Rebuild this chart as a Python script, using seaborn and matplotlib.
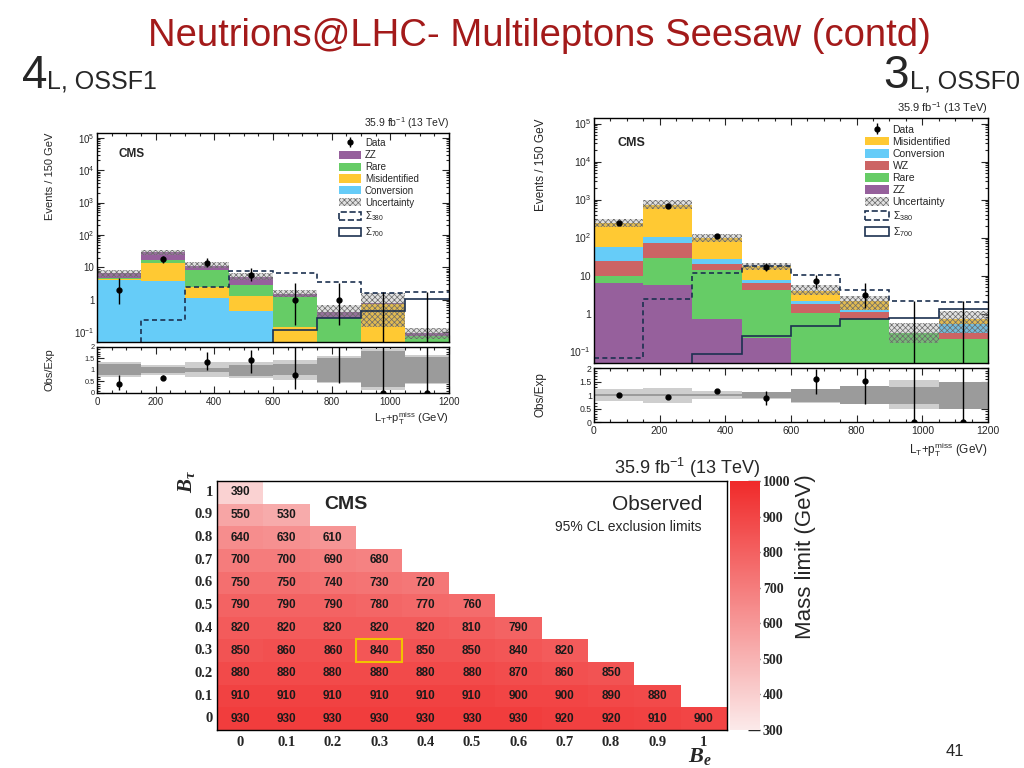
import numpy as np
import pandas as pd
import matplotlib
matplotlib.use("Agg")
import matplotlib.pyplot as plt
import matplotlib.ticker as mticker
from matplotlib.colors import LinearSegmentedColormap
from matplotlib.patches import Patch, Rectangle
import seaborn as sns

sns.set_style("ticks")
plt.rcParams['font.family'] = ['Liberation Sans', 'DejaVu Sans']
plt.rcParams['mathtext.fontset'] = 'custom'
plt.rcParams['mathtext.rm'] = 'Liberation Sans'
plt.rcParams['mathtext.it'] = 'Liberation Sans:italic'
plt.rcParams['mathtext.bf'] = 'Liberation Sans:bold'
plt.rcParams['mathtext.bfit'] = 'Liberation Serif:italic:bold'
plt.rcParams['hatch.linewidth'] = 0.5

# binning shared by both L_T + pTmiss distributions
bin_edges = np.array([0, 150, 300, 450, 600, 750, 900, 1050, 1200])

# ---- 4L, OSSF1 (left) ----
l_conv = [4.1, 3.7, 1.12, 0.44, 0, 0, 0, 0]
l_misid = [0.4, 9.7, 1.45, 0.83, 0.15, 0, 0.75, 0]
l_rare = [0.1, 3.6, 5.8, 1.6, 1.1, 0.28, 0, 0.074]
l_zz = [2.0, 13.7, 3.0, 2.3, 0.25, 0.14, 0.04, 0.02]
l_unc_lo = [5.2, 24.4, 9.4, 4.1, 1.2, 0.3, 0.14, 0.06]
l_unc_hi = [8.4, 34.4, 15.1, 6.9, 2.0, 0.7, 1.65, 0.134]
l_data = [2, 18, 14, 6, 1, 1, 0, 0]
l_data_lo = [0.75, 14, 10.5, 3.9, 0.17, 0.17, 0, 0]
l_data_hi = [4.6, 23, 19, 9.5, 3.3, 3.3, 1.8, 1.8]
l_sig380 = [0.01, 0.24, 2.57, 7.8, 6.9, 3.66, 1.6, 1.72]
l_sig700 = [0.01, 0.01, 0.01, 0.01, 0.12, 0.27, 0.44, 1.05]
l_ratio = [0.38, 0.67, 1.36, 1.43, 0.78, 2.4, 0, 0]
l_ratio_lo = [0.13, 0.57, 1.0, 0.86, 0.16, 0.45, 0, 0]
l_ratio_hi = [0.78, 0.78, 1.8, 1.87, 2.0, 5.0, 4.3, 4.3]
l_dark_lo = [0.78, 0.88, 0.91, 0.74, 0.78, 0.49, 0.28, 0.45]
l_dark_hi = [1.26, 1.12, 1.09, 1.22, 1.26, 1.5, 1.83, 1.55]
l_light_lo = [0.7, 0.78, 0.71, 0.66, 0.57, 0.42, 0.15, 0.38]
l_light_hi = [1.35, 1.22, 1.33, 1.33, 1.43, 1.6, 1.9, 1.65]

# ---- 3L, OSSF0 (right) ----
r_zz = [6.4, 5.75, 0.7, 0.23, 0, 0, 0, 0]
r_rare = [3.1, 23, 13.5, 4.0, 1.04, 0.7, 0.3, 0.22]
r_wz = [14, 45, 6.2, 2.15, 0.79, 0.38, 0, 0.08]
r_conv = [34.5, 32, 6.6, 1.1, 0.27, 0.19, 0, 0.22]
r_misid = [177, 630, 69, 9.9, 1.75, 0.83, 0, 0.2]
r_unc_lo = [185, 560, 75, 14.2, 3.1, 1.27, 0.17, 0.31]
r_unc_hi = [305, 980, 122, 22, 5.8, 2.85, 0.57, 1.15]
r_data = [235, 690, 110, 17, 7, 3, 0, 0]
r_data_lo = [220, 665, 100, 13, 4.6, 1.4, 0, 0]
r_data_hi = [250, 715, 121, 21.5, 10.6, 6.4, 2.1, 2.1]
r_sig380 = [0.069, 2.47, 11.6, 18.1, 10.5, 4.25, 2.1, 1.98]
r_sig700 = [0.01, 0.01, 0.084, 0.255, 0.485, 0.74, 0.77, 1.32]
r_ratio = [0.99, 0.94, 1.15, 0.89, 1.6, 1.53, 0, 0]
r_ratio_lo = [0.96, 0.91, 1.1, 0.64, 1.02, 0.68, 0, 0]
r_ratio_hi = [1.02, 0.97, 1.2, 1.14, 1.97, 1.97, 3.0, 3.0]
r_dark_lo = [0.95, 0.95, 0.95, 0.88, 0.74, 0.68, 0.68, 0.49]
r_dark_hi = [1.05, 1.05, 1.05, 1.12, 1.21, 1.33, 1.3, 1.48]
r_light_lo = [0.77, 0.72, 0.84, 0.87, 0.72, 0.66, 0.47, 0.47]
r_light_hi = [1.23, 1.26, 1.15, 1.13, 1.23, 1.35, 1.54, 1.5]

# ---- mass limit scan (B_e, B_tau) ----
be_labels = ['0', '0.1', '0.2', '0.3', '0.4', '0.5', '0.6', '0.7', '0.8', '0.9', '1']
btau_labels = ['1', '0.9', '0.8', '0.7', '0.6', '0.5', '0.4', '0.3', '0.2', '0.1', '0']
limit_rows = [
    [390],
    [550, 530],
    [640, 630, 610],
    [700, 700, 690, 680],
    [750, 750, 740, 730, 720],
    [790, 790, 790, 780, 770, 760],
    [820, 820, 820, 820, 820, 810, 790],
    [850, 860, 860, 840, 850, 850, 840, 820],
    [880, 880, 880, 880, 880, 880, 870, 860, 850],
    [910, 910, 910, 910, 910, 910, 900, 900, 890, 880],
    [930, 930, 930, 930, 930, 930, 930, 920, 920, 910, 900],
]
highlight = ('0.3', '0.3')  # (B_e, B_tau)

# colours
c_zz = '#96609c'
c_rare = '#66cc66'
c_misid = '#ffc933'
c_conv = '#66ccf8'
c_wz = '#cc6464'
c_sig = '#1c3150'


def logLabel(v, pos):
    e = int(round(np.log10(v)))
    if e == 0:
        return '1'
    if e == 1:
        return '10'
    return r'10$^{%d}$' % e


"""
    drawDistribution - stacked background + data + signal, with ratio panel
"""
def drawDistribution(ax, rax, stack, legend_order, unc_lo, unc_hi, data, data_lo, data_hi,
                     sig380, sig700, ratio, ratio_lo, ratio_hi, dark_lo, dark_hi,
                     light_lo, light_hi, fs, leg_xy, ratio_fs):
    widths = np.diff(bin_edges)
    lefts = bin_edges[:-1]
    centers = lefts + widths / 2

    # stacked backgrounds
    bottom = np.zeros(len(lefts))
    patches = {}
    for label, vals, color in stack:
        vals = np.asarray(vals, float)
        ax.bar(lefts, vals, width=widths, bottom=bottom, align='edge', color=color, linewidth=0)
        patches[label] = Patch(facecolor=color, edgecolor='none')
        bottom = bottom + vals

    # uncertainty band
    ulo, uhi = np.asarray(unc_lo, float), np.asarray(unc_hi, float)
    ax.bar(lefts, uhi - ulo, width=widths, bottom=ulo, align='edge',
           facecolor=(0.6, 0.6, 0.6, 0.3), edgecolor='#6a6a6a', hatch='xxxxxx', linewidth=0)
    unc_patch = Patch(facecolor=(0.6, 0.6, 0.6, 0.3), edgecolor='#6a6a6a', hatch='xxxxxx', linewidth=0)

    # signals
    ax.stairs(sig380, bin_edges, baseline=None, color=c_sig, linestyle=(0, (3, 2)), linewidth=1.2)
    ax.stairs(sig700, bin_edges, baseline=None, color=c_sig, linewidth=1.2)

    # data
    d = np.asarray(data, float)
    err = ax.errorbar(centers, d, yerr=[d - np.asarray(data_lo), np.asarray(data_hi) - d],
                      fmt='o', ms=3.5, color='black', elinewidth=1, capsize=0, zorder=5)

    ax.set_yscale('log')
    ax.set_xlim(0, 1200)
    ax.set_ylim(0.05, 1.4e5)
    ax.yaxis.set_major_locator(mticker.LogLocator(base=10, numticks=12))
    ax.yaxis.set_minor_locator(mticker.LogLocator(base=10, subs=np.arange(2, 10), numticks=12))
    ax.yaxis.set_major_formatter(mticker.FuncFormatter(logLabel))
    ax.yaxis.set_minor_formatter(mticker.NullFormatter())
    ax.set_ylabel('Events / 150 GeV', fontsize=fs + 1, loc='top')
    ax.yaxis.set_label_coords(-0.12, 1.0)
    ax.tick_params(labelbottom=False)

    handles = [err] + [patches[k] for k in legend_order] + [
        unc_patch,
        Patch(facecolor='none', edgecolor=c_sig, linestyle='--', linewidth=1.2),
        Patch(facecolor='none', edgecolor=c_sig, linewidth=1.2)]
    labels = ['Data'] + legend_order + ['Uncertainty', r'$\Sigma_{380}$', r'$\Sigma_{700}$']
    ax.legend(handles, labels, loc='upper left', bbox_to_anchor=leg_xy, frameon=False,
              fontsize=fs, handlelength=2.3, handleheight=0.9, labelspacing=0.2,
              handletextpad=0.35, borderpad=0, borderaxespad=0)

    ax.text(0.06, 0.9, 'CMS', transform=ax.transAxes, fontsize=fs + 1.5,
            fontweight='bold', va='center')
    ax.text(1.0, 1.01, r'35.9 fb$^{-1}$ (13 TeV)', transform=ax.transAxes,
            fontsize=fs + 0.5, ha='right', va='bottom')

    # ratio panel
    llo, lhi = np.asarray(light_lo, float), np.asarray(light_hi, float)
    dlo, dhi = np.asarray(dark_lo, float), np.asarray(dark_hi, float)
    rax.bar(lefts, lhi - llo, width=widths, bottom=llo, align='edge', color='#cecece', linewidth=0)
    rax.bar(lefts, dhi - dlo, width=widths, bottom=dlo, align='edge', color='#9b9b9b', linewidth=0)
    r = np.asarray(ratio, float)
    rax.errorbar(centers, r, yerr=[r - np.asarray(ratio_lo), np.asarray(ratio_hi) - r],
                 fmt='o', ms=3.5, color='black', elinewidth=1, capsize=0, zorder=5)
    rax.set_xlim(0, 1200)
    rax.set_ylim(0, 2)
    rax.set_yticks([0, 0.5, 1, 1.5, 2])
    rax.set_yticklabels(['0', '0.5', '1', '1.5', '2'])
    rax.yaxis.set_minor_locator(mticker.MultipleLocator(0.1))
    rax.set_ylabel('Obs/Exp', fontsize=fs + 1)
    rax.yaxis.set_label_coords(-0.12, 0.5)
    rax.set_xlabel(r'L$_\mathrm{T}$+p$_\mathrm{T}^\mathrm{miss}$ (GeV)', fontsize=fs + 1, ha='right')

    for a in (ax, rax):
        a.xaxis.set_major_locator(mticker.MultipleLocator(200))
        a.xaxis.set_minor_locator(mticker.MultipleLocator(50))
        a.tick_params(which='both', direction='in', top=True, right=True, width=0.8,
                      labelsize=fs, pad=2)
        a.tick_params(which='major', length=5)
        a.tick_params(which='minor', length=2.5)
        for sp in a.spines.values():
            sp.set_visible(True)
            sp.set_color('black')
            sp.set_linewidth(1)
    rax.tick_params(axis='y', labelsize=ratio_fs, pad=1.5)
    rax.tick_params(axis='x', pad=3)
    # x title just under the tick labels, right-aligned (ROOT style)
    gap = (fs * 1.75) / 72 * 100 / (rax.get_position().height * 768)
    rax.xaxis.set_label_coords(1.0, -gap)


fig = plt.figure(figsize=(10.24, 7.68), dpi=100)

# left: 4L OSSF1
ax_l = fig.add_axes([0.0947, 0.5547, 0.3438, 0.2721])
rax_l = fig.add_axes([0.0947, 0.4883, 0.3438, 0.0599])
drawDistribution(ax_l, rax_l,
                 [('Conversion', l_conv, c_conv), ('Misidentified', l_misid, c_misid),
                  ('Rare', l_rare, c_rare), ('ZZ', l_zz, c_zz)],
                 ['ZZ', 'Rare', 'Misidentified', 'Conversion'],
                 l_unc_lo, l_unc_hi, l_data, l_data_lo, l_data_hi, l_sig380, l_sig700,
                 l_ratio, l_ratio_lo, l_ratio_hi, l_dark_lo, l_dark_hi, l_light_lo, l_light_hi,
                 7, (0.6875, 0.976), 5.3)

# right: 3L OSSF0
ax_r = fig.add_axes([0.580, 0.5273, 0.3848, 0.319])
rax_r = fig.add_axes([0.580, 0.4505, 0.3848, 0.0703])
drawDistribution(ax_r, rax_r,
                 [('ZZ', r_zz, c_zz), ('Rare', r_rare, c_rare), ('WZ', r_wz, c_wz),
                  ('Conversion', r_conv, c_conv), ('Misidentified', r_misid, c_misid)],
                 ['Misidentified', 'Conversion', 'WZ', 'Rare', 'ZZ'],
                 r_unc_lo, r_unc_hi, r_data, r_data_lo, r_data_hi, r_sig380, r_sig700,
                 r_ratio, r_ratio_lo, r_ratio_hi, r_dark_lo, r_dark_hi, r_light_lo, r_light_hi,
                 7.5, (0.688, 0.973), 6.3)

# bottom: mass limit heatmap
grid = np.full((len(btau_labels), len(be_labels)), np.nan)
for i, row in enumerate(limit_rows):
    grid[i, :len(row)] = row
df = pd.DataFrame(grid, index=btau_labels, columns=be_labels)

hax = fig.add_axes([0.2119, 0.0495, 0.498, 0.3242])
cax = fig.add_axes([0.7129, 0.0495, 0.0293, 0.3242])
cmap = LinearSegmentedColormap.from_list('cmsred', ['#fbeaea', '#f02a2a'])
sns.heatmap(df, ax=hax, cbar_ax=cax, cmap=cmap, vmin=300, vmax=1000, mask=df.isna(),
            annot=True, fmt='.0f', linewidths=0,
            annot_kws=dict(fontsize=8.5, fontweight='bold', color='#1a1a1a'))

hax.add_patch(Rectangle((be_labels.index(highlight[0]), btau_labels.index(highlight[1])), 1, 1,
                        fill=False, edgecolor='#f2c200', linewidth=1.5))
for sp in hax.spines.values():
    sp.set_visible(True)
    sp.set_color('black')
    sp.set_linewidth(1)
hax.tick_params(axis='y', direction='in', length=5, width=1, pad=3)
hax.tick_params(axis='x', length=0, pad=4)
for t in hax.get_xticklabels() + hax.get_yticklabels():
    t.set_fontfamily('Liberation Serif')
    t.set_fontweight('bold')
    t.set_fontsize(10.5)
    t.set_rotation(0)

hax.text(0.21, 0.888, 'CMS', transform=hax.transAxes, fontsize=14, fontweight='bold', va='baseline')
hax.text(0.951, 0.884, 'Observed', transform=hax.transAxes, fontsize=15, ha='right', va='baseline')
hax.text(0.951, 0.80, '95% CL exclusion limits', transform=hax.transAxes, fontsize=10,
         ha='right', va='baseline')

cax.set_yticks(range(300, 1001, 100))
cax.tick_params(direction='in', length=9, width=1, pad=2)
for t in cax.get_yticklabels():
    t.set_fontfamily('Liberation Serif')
    t.set_fontweight('bold')
    t.set_fontsize(10)

fig.text(760 / 1024, 1 - 474 / 768, r'35.9 fb$^{-1}$ (13 TeV)', ha='right', va='baseline', fontsize=13)
fig.text(805 / 1024, 1 - 474 / 768, 'Mass limit (GeV)', rotation=90, ha='center', va='top', fontsize=16)
fig.text(187 / 1024, 1 - 470 / 768, r'$\mathbfit{B}_{\mathbfit{\tau}}$', rotation=90,
         ha='center', va='top', fontsize=15)
fig.text(700 / 1024, 1 - 762 / 768, r'$\mathbfit{B}_{\mathbfit{e}}$', ha='center', va='baseline', fontsize=16)

# slide texts
fig.text(539 / 1024, 1 - 46 / 768, 'Neutrions@LHC- Multileptons Seesaw (contd)', ha='center',
         va='baseline', fontsize=27.5, color='#a31a1a')
fig.text(22 / 1024, 1 - 88 / 768, '4', ha='left', va='baseline', fontsize=33)
fig.text(47 / 1024, 1 - 88 / 768, 'L, OSSF1', ha='left', va='baseline', fontsize=18)
fig.text(1020 / 1024, 1 - 88 / 768, 'L, OSSF0', ha='right', va='baseline', fontsize=18)
fig.text(909 / 1024, 1 - 88 / 768, '3', ha='right', va='baseline', fontsize=33)
fig.text(955 / 1024, 1 - 756 / 768, '41', ha='center', va='baseline', fontsize=12)

plt.savefig('out.png', dpi=100)
plt.close()
